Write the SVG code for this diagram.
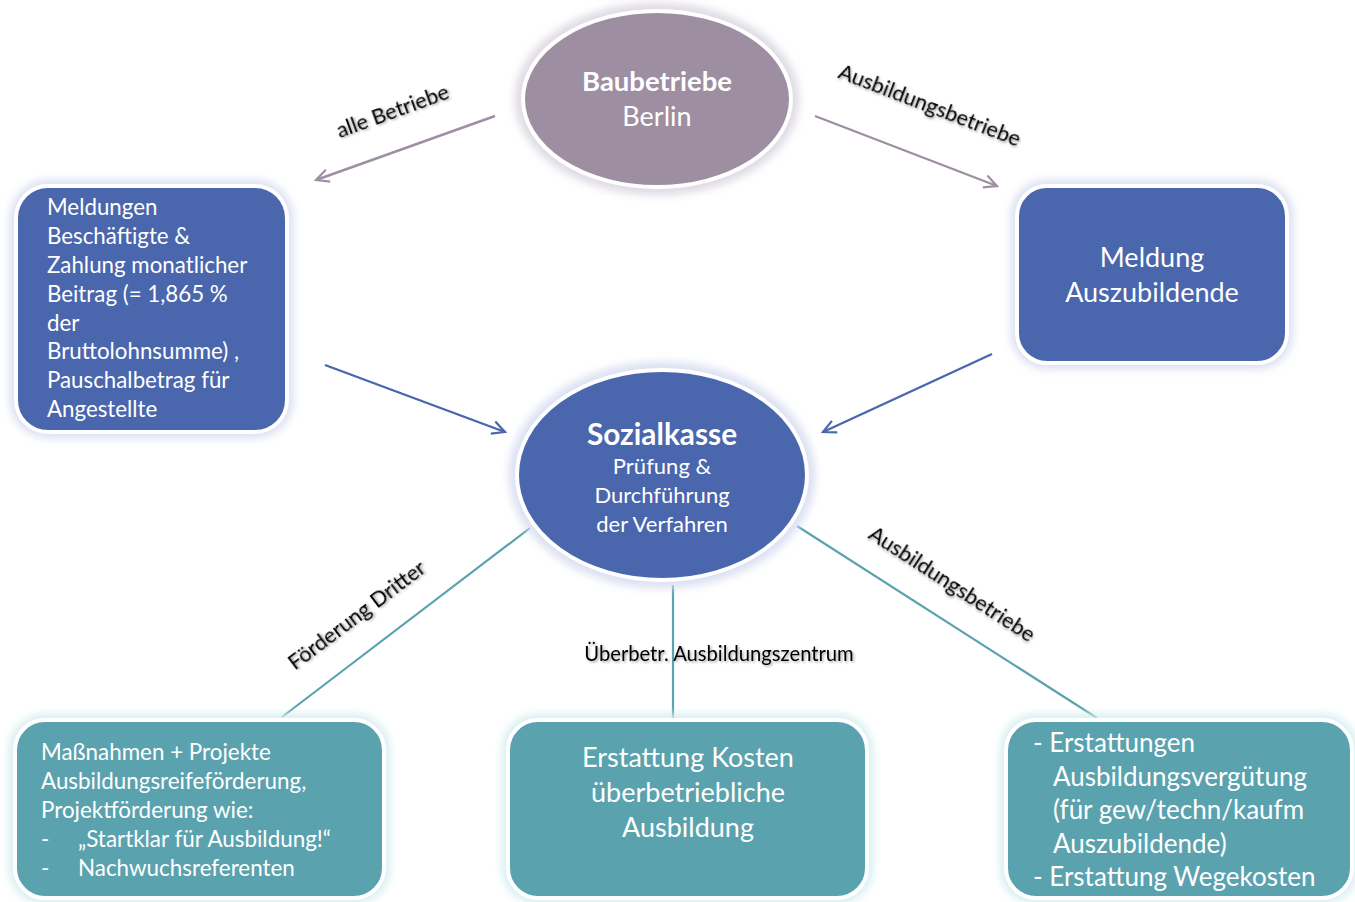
<svg xmlns="http://www.w3.org/2000/svg" width="1355" height="902" viewBox="0 0 1355 902">
  <style>
    .node-text { font-family: Lato, "Noto Sans", "Liberation Sans", sans-serif; fill: #ffffff; }
    .label { font-family: Lato, "Noto Sans", "Liberation Sans", sans-serif; fill: #000000; font-size: 21.5px; filter: url(#textShadow); }
    .label.flat { font-size: 20.2px; }
    .halo { fill: none; stroke-width: 12; filter: url(#soft); }
    .rim { stroke: #ffffff; stroke-width: 4; }
    .purple { fill: #9d8fa1; }
    .blue { fill: #4a66ad; }
    .teal { fill: #5ba2af; }
    .arrow-grey { stroke: #9d8fa1; stroke-width: 2.4; fill: none; marker-end: url(#openGrey); }
    .arrow-blue { stroke: #4a66ad; stroke-width: 2.4; fill: none; marker-end: url(#openBlue); }
    .tie { stroke: #5ba2af; stroke-width: 2.2; fill: none; }
  </style>
  <defs>
    <filter id="soft" x="-20%" y="-20%" width="140%" height="140%">
      <feGaussianBlur stdDeviation="4"/>
    </filter>
    <filter id="textShadow" x="-10%" y="-30%" width="120%" height="160%">
      <feDropShadow dx="1.5" dy="1.5" stdDeviation="1.2" flood-color="#000000" flood-opacity="0.35"/>
    </filter>
    <marker id="openGrey" viewBox="0 0 20 20" refX="18" refY="10" markerWidth="17" markerHeight="17" markerUnits="userSpaceOnUse" orient="auto">
      <path d="M3,2.5 L18,10 L3,17.5" fill="none" stroke="#9d8fa1" stroke-width="2.6"/>
    </marker>
    <marker id="openBlue" viewBox="0 0 20 20" refX="18" refY="10" markerWidth="17" markerHeight="17" markerUnits="userSpaceOnUse" orient="auto">
      <path d="M3,2.5 L18,10 L3,17.5" fill="none" stroke="#4a66ad" stroke-width="2.6"/>
    </marker>
  </defs>

  <rect width="1355" height="902" fill="#ffffff"/>

  <!-- connectors -->
  <g id="connectors">
    <line class="arrow-grey" x1="495" y1="116" x2="316" y2="180"/>
    <line class="arrow-grey" x1="815" y1="116" x2="997" y2="186"/>
    <line class="arrow-blue" x1="325" y1="365" x2="505" y2="432"/>
    <line class="arrow-blue" x1="992" y1="354" x2="823" y2="432"/>
    <line class="tie" x1="530" y1="528" x2="282" y2="717"/>
    <line class="tie" x1="673" y1="585" x2="673" y2="718"/>
    <line class="tie" x1="797" y1="526" x2="1097" y2="718"/>

    <text class="label" transform="translate(395,118) rotate(-20)" text-anchor="middle">alle Betriebe</text>
    <text class="label" transform="translate(927,112) rotate(21)" text-anchor="middle">Ausbildungsbetriebe</text>
    <text class="label" transform="translate(361,621) rotate(-37)" text-anchor="middle">Förderung Dritter</text>
    <text class="label flat" x="719" y="661" text-anchor="middle">Überbetr. Ausbildungszentrum</text>
    <text class="label" transform="translate(948,590) rotate(33)" text-anchor="middle">Ausbildungsbetriebe</text>
  </g>

  <!-- Baubetriebe Berlin -->
  <g id="baubetriebe">
    <ellipse class="halo" cx="657" cy="99" rx="136" ry="90" stroke="#ddd8e2"/>
    <ellipse class="purple rim" cx="657" cy="99" rx="134" ry="88"/>
    <text class="node-text" x="657" y="91" text-anchor="middle" font-size="27.5" font-weight="bold">Baubetriebe</text>
    <text class="node-text" x="657" y="126" text-anchor="middle" font-size="27">Berlin</text>
  </g>

  <!-- Meldungen Beschäftigte -->
  <g id="meldungen">
    <rect class="halo" x="16" y="186" width="271" height="246" rx="32" stroke="#d9def2"/>
    <rect class="blue rim" x="16" y="186" width="271" height="246" rx="32"/>
    <g class="node-text" font-size="22.3">
      <text x="47" y="215">Meldungen</text>
      <text x="47" y="244">Beschäftigte &amp;</text>
      <text x="47" y="273">Zahlung monatlicher</text>
      <text x="47" y="302">Beitrag (= 1,865 %</text>
      <text x="47" y="331">der</text>
      <text x="47" y="359">Bruttolohnsumme) ,</text>
      <text x="47" y="388">Pauschalbetrag für</text>
      <text x="47" y="417">Angestellte</text>
    </g>
  </g>

  <!-- Meldung Auszubildende -->
  <g id="meldung-azubi">
    <rect class="halo" x="1017" y="186" width="270" height="177" rx="30" stroke="#d9def2"/>
    <rect class="blue rim" x="1017" y="186" width="270" height="177" rx="30"/>
    <text class="node-text" x="1152" y="267" text-anchor="middle" font-size="27">Meldung</text>
    <text class="node-text" x="1152" y="302" text-anchor="middle" font-size="27">Auszubildende</text>
  </g>

  <!-- Sozialkasse -->
  <g id="sozialkasse">
    <ellipse class="halo" cx="662" cy="475" rx="147" ry="107" stroke="#d9def2"/>
    <ellipse class="blue rim" cx="662" cy="475" rx="145" ry="105"/>
    <text class="node-text" x="662" y="445" text-anchor="middle" font-size="29.8" font-weight="bold">Sozialkasse</text>
    <text class="node-text" x="662" y="474" text-anchor="middle" font-size="22">Prüfung &amp;</text>
    <text class="node-text" x="662" y="503" text-anchor="middle" font-size="22">Durchführung</text>
    <text class="node-text" x="662" y="532" text-anchor="middle" font-size="22">der Verfahren</text>
  </g>

  <!-- Förderung Dritter -->
  <g id="foerderung">
    <rect class="halo" x="15" y="720" width="369" height="178" rx="30" stroke="#d6eef1"/>
    <rect class="teal rim" x="15" y="720" width="369" height="178" rx="30"/>
    <g class="node-text" font-size="22.4">
      <text x="41" y="760">Maßnahmen + Projekte</text>
      <text x="41" y="789">Ausbildungsreifeförderung,</text>
      <text x="41" y="818">Projektförderung wie:</text>
      <text x="41" y="847">-</text>
      <text x="78" y="847">„Startklar für Ausbildung!“</text>
      <text x="41" y="876">-</text>
      <text x="78" y="876">Nachwuchsreferenten</text>
    </g>
  </g>

  <!-- Überbetriebliche Ausbildung -->
  <g id="ueberbetrieblich">
    <rect class="halo" x="508" y="720" width="359" height="178" rx="30" stroke="#d6eef1"/>
    <rect class="teal rim" x="508" y="720" width="359" height="178" rx="30"/>
    <text class="node-text" x="688" y="767" text-anchor="middle" font-size="27">Erstattung Kosten</text>
    <text class="node-text" x="688" y="802" text-anchor="middle" font-size="27">überbetriebliche</text>
    <text class="node-text" x="688" y="837" text-anchor="middle" font-size="27">Ausbildung</text>
  </g>

  <!-- Ausbildungsbetriebe Erstattungen -->
  <g id="erstattungen">
    <rect class="halo" x="1006" y="720" width="346" height="178" rx="30" stroke="#d6eef1"/>
    <rect class="teal rim" x="1006" y="720" width="346" height="178" rx="30"/>
    <g class="node-text" font-size="26">
      <text x="1033" y="752">- Erstattungen</text>
      <text x="1053" y="786">Ausbildungsvergütung</text>
      <text x="1053" y="819">(für gew/techn/kaufm</text>
      <text x="1053" y="853">Auszubildende)</text>
      <text x="1033" y="886">- Erstattung Wegekosten</text>
    </g>
  </g>
</svg>
